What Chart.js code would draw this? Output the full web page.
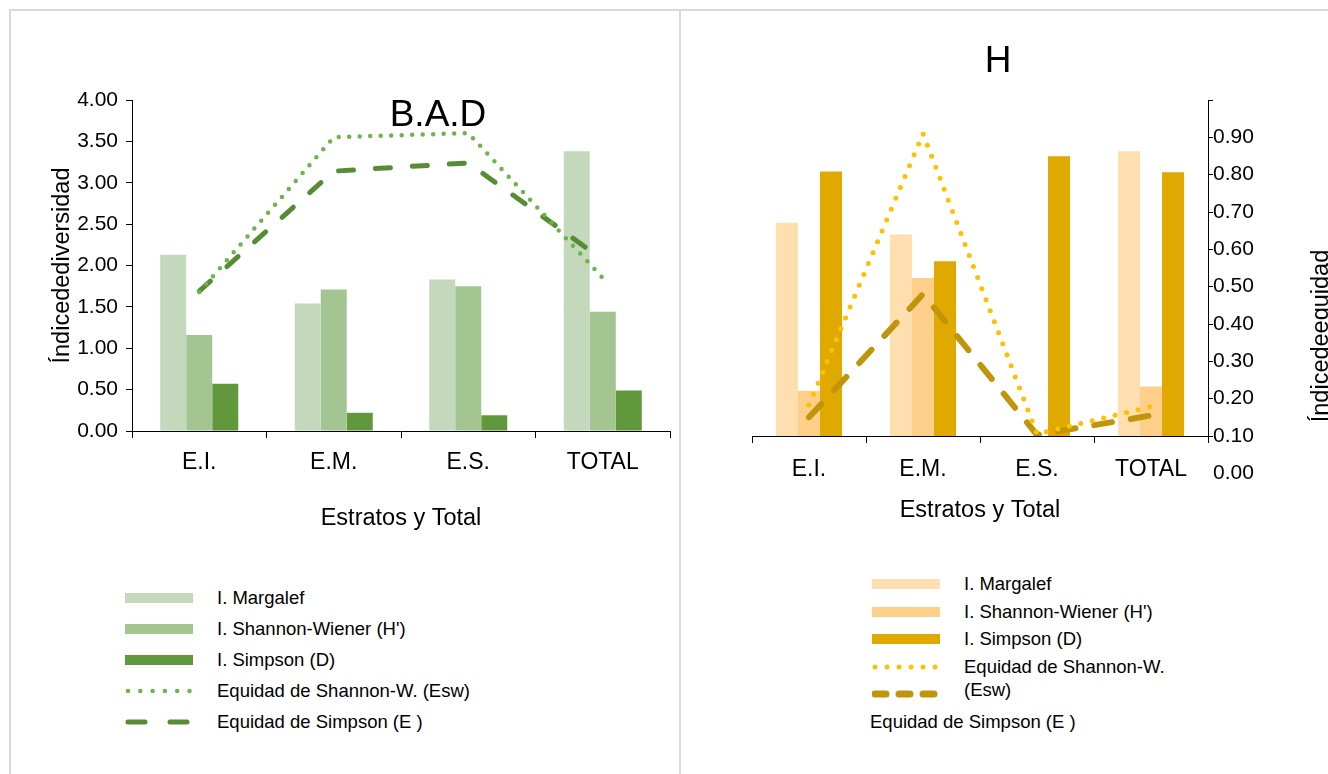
<!DOCTYPE html>
<html>
<head>
<meta charset="utf-8">
<script src="https://cdn.jsdelivr.net/npm/chart.js@4.4.1/dist/chart.umd.min.js"></script>
<style>
body { margin: 0; background: #fff; width: 1328px; height: 774px; overflow: hidden; position: relative; font-family: "Liberation Sans", Arial, sans-serif; }
.panel { position: absolute; border: 2px solid #d9d9d9; border-bottom: none; }
canvas { position: absolute; }
.legend { position: absolute; font-size: 18.5px; color: #000; }
.legend .sw { position: absolute; left: 0; }
.legend .tx { position: absolute; white-space: nowrap; line-height: 23px; }
</style>
</head>
<body>
<div class="panel" style="left:9px; top:9px; width:668px; height:800px;"></div>
<div class="panel" style="left:679px; top:9px; width:700px; height:800px;"></div>
<canvas id="badChart" width="680" height="560" style="left:0; top:0;"></canvas>
<canvas id="hChart" width="648" height="560" style="left:680px; top:0;"></canvas>
<div class="legend" id="badLegend" style="left:125px; top:586px;"></div>
<div class="legend" id="hLegend" style="left:872px; top:572px;"></div>
<script>
const categories = ['E.I.', 'E.M.', 'E.S.', 'TOTAL'];

// B.A.D
const badMargalef = [2.13, 1.54, 1.83, 3.38];
const badShannon = [1.16, 1.71, 1.75, 1.44];
const badSimpson = [0.57, 0.22, 0.19, 0.49];
const badEqShannon = [0.42, 0.8875, 0.90, 0.4625];
const badEqSimpson = [0.4225, 0.785, 0.81, 0.5175];

// H
const hMargalef = [2.54, 2.40, 0, 3.39];
const hShannon = [0.54, 1.88, 0, 0.59];
const hSimpson = [3.15, 2.08, 3.33, 3.14];
const hEqShannon = [0.183, 0.91, 0.105, 0.179];
const hEqSimpson = [0.15, 0.48, 0.103, 0.155];

const labels = ['I. Margalef', "I. Shannon-Wiener (H')", 'I. Simpson (D)', 'Equidad de Shannon-W. (Esw)', 'Equidad de Simpson (E )'];

const FONT = '"Liberation Sans", Arial, sans-serif';

// textos sueltos (titulos, etiqueta extra del eje)
const extraText = {
    id: 'extraText',
    afterDraw(chart, args, opts) {
        const ctx = chart.ctx;
        (opts.items || []).forEach(item => {
            ctx.save();
            ctx.font = item.font;
            ctx.fillStyle = '#000';
            ctx.textAlign = item.align || 'center';
            ctx.textBaseline = 'middle';
            let y = item.y;
            if (item.scale) y = chart.scales[item.scale].getPixelForValue(item.value);
            ctx.translate(item.x, y);
            if (item.rotate) ctx.rotate(item.rotate);
            ctx.fillText(item.text, 0, 0);
            ctx.restore();
        });
    }
};

function barSet(label, data, color) {
    return { type: 'bar', label: label, data: data, backgroundColor: color, order: 1,
             categoryPercentage: 0.58, barPercentage: 1.0, yAxisID: 'y' };
}

function lineSet(label, data, color, width, dash, legendDash) {
    return { type: 'line', label: label, data: data, borderColor: color, borderWidth: width,
             borderDash: dash, borderCapStyle: 'round', pointRadius: 0, tension: 0, fill: false,
             order: 0, yAxisID: 'y1', legendDash: legendDash };
}

function xAxis(height, labelPad, titlePad) {
    return {
        offset: true,
        afterFit: s => { s.height = height; },
        grid: { offset: true, drawOnChartArea: false, drawTicks: true, tickLength: 7, color: '#000' },
        border: { display: true, color: '#000' },
        ticks: { color: '#000', font: { family: FONT, size: 23 }, padding: labelPad },
        title: { display: true, text: 'Estratos y Total', color: '#000', font: { family: FONT, size: 23.5 },
                 padding: { top: 0, bottom: titlePad } }
    };
}

// ---- B.A.D ----
const badChart = new Chart(document.getElementById('badChart'), {
    data: {
        labels: categories,
        datasets: [
            barSet(labels[0], badMargalef, '#c4d8bc'),
            barSet(labels[1], badShannon, '#a3c592'),
            barSet(labels[2], badSimpson, '#61983c'),
            lineSet(labels[3], badEqShannon, '#6db546', 4.5, [0, 10.5], '0 12.3'),
            lineSet(labels[4], badEqSimpson, '#568c33', 5, [15, 22], '17 25')
        ]
    },
    options: {
        responsive: false,
        animation: false,
        layout: { padding: { left: 40, right: 10, top: 100, bottom: 26 } },
        plugins: {
            legend: { display: false },
            tooltip: { enabled: false },
            extraText: { items: [ { text: 'B.A.D', x: 438, y: 116, font: '37px ' + FONT } ] }
        },
        scales: {
            x: xAxis(103, 11, 1),
            y: {
                min: 0, max: 4,
                afterFit: s => { s.width = 92; },
                grid: { drawOnChartArea: false, drawTicks: true, tickLength: 6, color: '#000' },
                border: { display: true, color: '#000' },
                ticks: { stepSize: 0.5, color: '#000', padding: 8, font: { family: FONT, size: 21 },
                         callback: v => v.toFixed(2) },
                title: { display: true, text: 'Índicedediversidad', color: '#000',
                         font: { family: FONT, size: 23.5 }, padding: { top: 8, bottom: 0 } }
            },
            y1: { display: false, min: 0, max: 1 }
        }
    },
    plugins: [extraText]
});

// ---- H ----
const hChart = new Chart(document.getElementById('hChart'), {
    data: {
        labels: categories,
        datasets: [
            barSet(labels[0], hMargalef, '#ffdfb0'),
            barSet(labels[1], hShannon, '#fecf88'),
            barSet(labels[2], hSimpson, '#e0a900'),
            lineSet(labels[3], hEqShannon, '#ffc000', 5, [0, 11.8], '0 12'),
            lineSet(labels[4], hEqSimpson, '#c0950c', 6, [18, 19], '11 13')
        ]
    },
    options: {
        responsive: false,
        animation: false,
        layout: { padding: { left: 72, right: 0, top: 100, bottom: 34 } },
        plugins: {
            legend: { display: false },
            tooltip: { enabled: false },
            extraText: { items: [
                { text: 'H', x: 318, y: 62, font: '37px ' + FONT },
                { text: '0.00', x: 533, scale: 'y1', value: 0, align: 'left', font: '21px ' + FONT },
                { text: 'Índicedeequidad', x: 642, y: 336, rotate: -Math.PI / 2, font: '23.5px ' + FONT }
            ] }
        },
        scales: {
            x: xAxis(90, 13, 1),
            y: { display: false, min: 0, max: 4 },
            y1: {
                position: 'right',
                min: 0.1, max: 1.0,
                afterFit: s => { s.width = 120; },
                grid: { drawOnChartArea: false, drawTicks: true, tickLength: 5, color: '#000' },
                border: { display: true, color: '#000' },
                ticks: { stepSize: 0.1, color: '#000', padding: 0, font: { family: FONT, size: 21 },
                         callback: v => (v > 0.95 ? '' : v.toFixed(2)) }
            }
        }
    },
    plugins: [extraText]
});

function swatch(ds, width) {
    if (ds.type === 'line') {
        return `<svg width="68" height="24"><line x1="3" y1="12" x2="66" y2="12" stroke="${ds.borderColor}" stroke-width="${width || ds.borderWidth}" stroke-linecap="round" stroke-dasharray="${ds.legendDash}"/></svg>`;
    }
    return `<svg width="68" height="24"><rect x="0" y="7" width="68" height="10" fill="${ds.backgroundColor}"/></svg>`;
}

// leyenda B.A.D: una fila por serie
function buildBadLegend(chart) {
    const box = document.getElementById('badLegend');
    let html = '';
    chart.data.datasets.forEach((ds, i) => {
        const top = i * 31;
        html += `<div class="sw" style="top:${top}px">${swatch(ds)}</div>`;
        html += `<div class="tx" style="left:92px; top:${top}px">${ds.label}</div>`;
    });
    box.innerHTML = html;
}

// leyenda H: como en el original, la ultima etiqueta cae debajo
function buildHLegend(chart) {
    const box = document.getElementById('hLegend');
    const pitch = 27.6;
    let html = '';
    chart.data.datasets.forEach((ds, i) => {
        const top = i * pitch;
        html += `<div class="sw" style="top:${top}px">${swatch(ds, ds.type === 'line' ? (i === 4 ? 7 : 5) : 0)}</div>`;
        if (i === 3) {
            html += `<div class="tx" style="left:92px; top:${top + 0.5}px; white-space:normal; width:215px">${ds.label}</div>`;
        } else if (i === 4) {
            html += `<div class="tx" style="left:-2px; top:${top + pitch}px">${ds.label}</div>`;
        } else {
            html += `<div class="tx" style="left:92px; top:${top}px">${ds.label}</div>`;
        }
    });
    box.innerHTML = html;
}

buildBadLegend(badChart);
buildHLegend(hChart);
</script>
</body>
</html>
